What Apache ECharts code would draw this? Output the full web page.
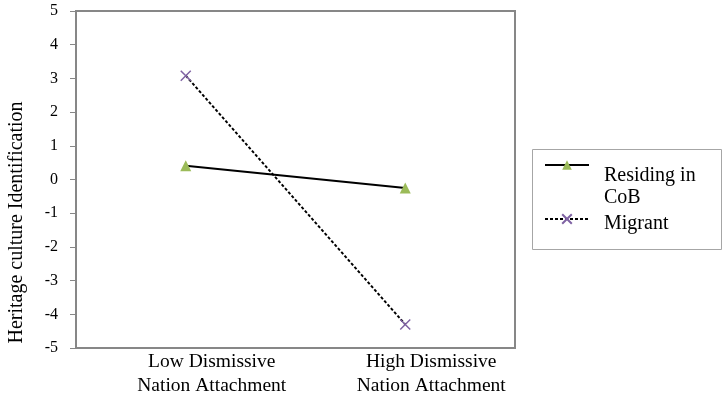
<!DOCTYPE html>
<html>
<head>
<meta charset="utf-8">
<script src="https://cdn.jsdelivr.net/npm/echarts@6/dist/echarts.min.js"></script>
<style>
html, body { margin: 0; padding: 0; background: #fff; }
#chart { width: 725px; height: 401px; }
</style>
</head>
<body>
<div id="chart"></div>
<script>
const categories = ['Low Dismissive\nNation Attachment', 'High Dismissive\nNation Attachment'];
const residing = [0.41, -0.25];
const migrant = [3.08, -4.30];

const font = 'Liberation Serif';
const chart = echarts.init(document.getElementById('chart'));

const option = {
    backgroundColor: '#fff',
    animation: false,
    grid: {
        left: 76,
        right: 210,
        top: 11,
        bottom: 53,
        outerBoundsMode: 'none',
        containLabel: false,
        show: true,
        borderColor: '#878787',
        borderWidth: 2
    },
    // legend frame
    graphic: [{
        type: 'rect',
        shape: { x: 532.5, y: 149.5, width: 189, height: 100 },
        style: { fill: 'none', stroke: '#a6a6a6', lineWidth: 1 },
        silent: true
    }],
    legend: {
        orient: 'vertical',
        left: 544,
        top: 141,
        padding: 0,
        itemWidth: 44,
        itemHeight: 12,
        itemGap: -2,
        // icon sits beside the first text line, as in the original
        formatter: function (name) {
            const sp = name === 'Migrant' ? '{s6| }' : '{s44| }';
            return sp + '\n' + name.split('\n').map(l => '{t|' + l + '}').join('\n');
        },
        textStyle: {
            fontFamily: font,
            fontSize: 20,
            color: '#000',
            rich: {
                t: { fontFamily: font, fontSize: 20, lineHeight: 22, padding: [0, 0, 0, 10] },
                s6: { fontSize: 4, lineHeight: 10 },
                s44: { fontSize: 4, lineHeight: 44 }
            }
        },
        data: ['Residing in\nCoB', 'Migrant']
    },
    xAxis: {
        type: 'category',
        data: categories,
        axisLine: { show: false },
        axisTick: { show: false },
        axisLabel: {
            color: '#000',
            margin: 2,
            formatter: function (v) {
                return v.split('\n').map(l => '{s| }{t|' + l + '}').join('\n');
            },
            rich: {
                s: { width: 52, fontSize: 4 },
                t: { fontFamily: font, fontSize: 19.5, lineHeight: 24, color: '#000' }
            }
        }
    },
    yAxis: {
        type: 'value',
        min: -5,
        max: 5,
        interval: 1,
        name: 'Heritage culture Identification',
        nameLocation: 'middle',
        nameGap: 49,
        nameTextStyle: {
            fontFamily: font,
            fontSize: 20,
            color: '#000',
            padding: [0, 86, 0, 0]
        },
        axisLine: { show: true, lineStyle: { color: '#878787', width: 2 } },
        axisTick: { show: true, length: 6, lineStyle: { color: '#878787' } },
        splitLine: { show: false },
        axisLabel: {
            fontFamily: font,
            fontSize: 16,
            color: '#000',
            margin: 18
        }
    },
    series: [
        {
            name: 'Residing in\nCoB',
            type: 'line',
            data: residing,
            symbol: 'triangle',
            symbolSize: 11,
            itemStyle: { color: '#9bbb59' },
            lineStyle: { color: '#000', width: 2 }
        },
        {
            name: 'Migrant',
            type: 'line',
            data: migrant,
            symbol: 'path://M0,0 L10,10 M10,0 L0,10',
            symbolSize: 10,
            itemStyle: { color: '#7f62a3', borderColor: '#7f62a3', borderWidth: 1.5 },
            lineStyle: { color: '#000', width: 2, type: [3, 2] }
        }
    ]
};

chart.setOption(option);
</script>
</body>
</html>
